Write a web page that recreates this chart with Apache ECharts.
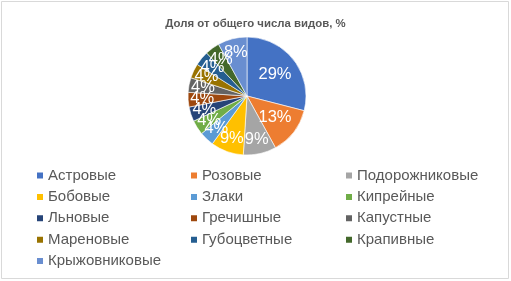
<!DOCTYPE html>
<html><head><meta charset="utf-8">
<script src="https://cdn.jsdelivr.net/npm/echarts@6/dist/echarts.min.js"></script>
<style>html,body{margin:0;padding:0;background:#fff}#c{width:511px;height:281px}</style>
</head><body><div id="c"></div>
<script>
const categories = ['Астровые','Розовые','Подорожниковые','Бобовые','Злаки','Кипрейные','Льновые','Гречишные','Капустные','Мареновые','Губоцветные','Крапивные','Крыжовниковые'];
const values = [29,13,9,9,4,4,4,4,4,4,4,4,8];
const colors = ['#4472C4','#ED7D31','#A5A5A5','#FFC000','#5B9BD5','#70AD47','#264478','#9E480E','#636363','#997300','#255E91','#43682B','#698ED0'];
const titleText = 'Доля от общего числа видов, %';
const legendCols = [
  ['Астровые','Бобовые','Льновые','Мареновые','Крыжовниковые'],
  ['Розовые','Злаки','Гречишные','Губоцветные'],
  ['Подорожниковые','Кипрейные','Капустные','Крапивные']
];
const legendX = [35, 189, 344];
const font = 'Liberation Sans, Arial, sans-serif';
const CX = 247, CY = 96, R = 59;
const total = values.reduce((a,b)=>a+b,0);
const cum = []; values.reduce((a,v,i)=>{cum[i]=a+v/2; return a+v;},0);
const chart = echarts.init(document.getElementById('c'), null, {renderer:'canvas'});
chart.setOption({
  animation:false,
  backgroundColor:'#fff',
  color: colors,
  graphic:[{type:'rect',shape:{x:1.5,y:1.5,width:507,height:277},style:{fill:'none',stroke:'#d9d9d9',lineWidth:1}}],
  title:{text:titleText,left:'center',top:13,textStyle:{fontFamily:font,fontSize:11.4,fontWeight:'bold',color:'#595959'}},
  legend: legendCols.map((d,i)=>({
    data:d, orient:'vertical', left:legendX[i], top:168, icon:'rect', itemWidth:8, itemHeight:8, itemGap:6.4,
    textStyle:{fontFamily:font,fontSize:15,color:'#595959',lineHeight:14,padding:[0,0,0,-1]}, padding:0
  })),
  series:[{
    type:'pie', center:[CX,CY], radius:R, startAngle:90, clockwise:true, avoidLabelOverlap:false,
    data: categories.map((n,i)=>({name:n,value:values[i]})),
    itemStyle:{borderColor:'#fff',borderWidth:0.6},
    label:{show:true,position:'inside',formatter:p=>p.value+'%',color:'#fff',fontFamily:font,fontSize:16.5},
    labelLine:{show:false},
    labelLayout: function(p){
      const i = p.dataIndex;
      const a = cum[i]/total*2*Math.PI;
      const k = values[i] >= 13 ? 0.6 : 0.76;
      return {x: CX + Math.sin(a)*R*k, y: CY - Math.cos(a)*R*k, align:'center', verticalAlign:'middle', hideOverlap:false};
    }
  }]
});
</script></body></html>
